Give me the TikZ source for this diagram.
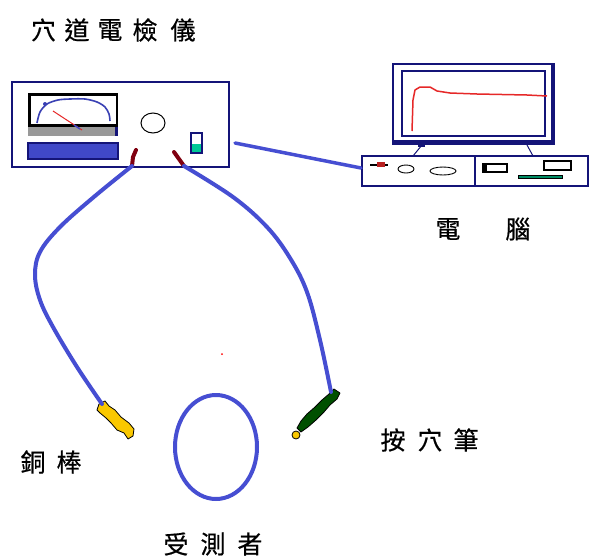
\documentclass[tikz,border=0pt]{standalone}
\usepackage{fontspec}
\newfontfamily\cjk[FakeBold=0.6]{Noto Sans CJK TC}
\definecolor{navy}{RGB}{20,20,120}
\definecolor{cable}{RGB}{70,78,210}
\definecolor{barblue}{RGB}{64,72,200}
\definecolor{plugred}{RGB}{128,0,16}
\definecolor{teal}{RGB}{0,200,150}
\definecolor{gold}{RGB}{250,200,0}
\definecolor{pengreen}{RGB}{0,80,0}
\definecolor{curvered}{RGB}{230,40,40}
\definecolor{slotgreen}{RGB}{0,140,100}
\begin{document}
\begin{tikzpicture}[x=1pt,y=-1pt,
  lab/.style={font=\cjk\fontsize{25}{25}\selectfont, inner sep=0pt, text=black},
  wire/.style={draw=cable, line width=4pt, line cap=round, line join=round},
  plug/.style={draw=plugred, line width=4pt, line cap=round},
  frame/.style={draw=navy, line width=2.5pt}]
\useasboundingbox (0,0) rectangle (590,560);

% ---- titles and labels ----
\node[lab] (t1) at (43.5,30) {穴};
\node[lab] (t2) at (77,30) {道};
\node[lab] (t3) at (110,30) {電};
\node[lab] (t4) at (145,30) {檢};
\node[lab] (t5) at (183,30) {儀};
\node[lab] (pc1) at (448,229) {電};
\node[lab] (pc2) at (518,229) {腦};
\node[lab] (r1) at (33,462) {銅};
\node[lab] (r2) at (69,462) {棒};
\node[lab] (p1) at (393,440) {按};
\node[lab] (p2) at (430,440) {穴};
\node[lab] (p3) at (466,440) {筆};
\node[lab] (s1) at (176,544) {受};
\node[lab] (s2) at (213,544) {測};
\node[lab] (s3) at (250,544) {者};

% ---- point detector ----
\node[frame, fill=white, minimum width=217pt, minimum height=85pt, inner sep=0pt] (inst) at (120.5,124.5) {};
% meter
\fill[black] (28,93) rectangle (118,127);
\fill[white] (31,96) rectangle (116,124);
\fill[black!40] (28,127) rectangle (118,136);
\fill[navy] (115,127) rectangle (118,136);
\draw[barblue!90!black, line width=1.6pt] plot[smooth] coordinates {(37,123) (40,112) (47,104) (58,100) (70,99) (85,99) (97,102) (105,107) (109,114) (110,121)};
\fill[barblue!90!black] (45,104) circle (2pt);
\draw[curvered, line width=1pt] (53,111) -- (82,130);
\draw[barblue, line width=1.4pt] (74,125) -- (80,129);
% level bar
\draw[navy, line width=1.5pt, fill=barblue] (28,143) rectangle (118,159);
% knob
\draw[black, line width=1pt] (153,123) ellipse [x radius=12pt, y radius=10pt];
% switch
\fill[teal] (191,144) rectangle (202,153);
\draw[navy, line width=1.2pt] (191,133) rectangle (202,153);
% output jacks
\coordinate (jackL) at (132,166);
\coordinate (jackR) at (184,166);
\draw[plug] (jackL) -- (133,157) -- (136,150);
\draw[plug] (174,152) -- (jackR);

% ---- computer ----
\fill[navy] (392,63) rectangle (555,145);
\fill[white] (394,65) rectangle (551,140);
\draw[navy, line width=1.5pt] (402,71) rectangle (545,136);
\draw[curvered, line width=1.5pt, line join=round] (412,131) -- (413,100) -- (415,90) -- (420,87) -- (430,87) -- (437,91) -- (450,93) -- (477,94) -- (527,95) -- (547,96);
% stand
\fill[navy] (418,142) rectangle (425,147);
\draw[navy, line width=1pt] (422,145) -- (413,156);
\draw[navy, line width=1pt] (527,145) -- (533,156);
% base unit
\node[draw=navy, line width=2pt, fill=white, minimum width=226pt, minimum height=30pt, inner sep=0pt] (pcbase) at (475,171) {};
\draw[navy, line width=1.5pt] (475,156) -- (475,186);
\draw[black, line width=2pt] (370,164.5) -- (388,164.5);
\fill[curvered!80!black] (377,162) rectangle (385,167);
\draw[black, line width=0.9pt] (406,169) ellipse [x radius=8pt, y radius=4pt];
\draw[black, line width=0.9pt] (443,171) ellipse [x radius=13pt, y radius=4pt];
\draw[black, line width=1.2pt] (483,164) rectangle (507,172);
\fill[black] (483,164) rectangle (487,172);
\draw[black, line width=1.2pt] (544,161) rectangle (571,170);
\draw[black, line width=0.8pt, fill=slotgreen] (518,175.5) rectangle (562,178.5);

% link between detector and computer
\coordinate (linkA) at (235,143);
\draw[wire, line width=3.5pt] (linkA) -- ([yshift=3pt]pcbase.west);

% ---- copper rod ----
\filldraw[fill=gold, draw=black, line width=0.8pt, line join=round]
  (99,404) -- (105,401) -- (109,406) -- (115,410) -- (121,417) -- (129,423) -- (134,429)
  -- (133,436) -- (128,439) -- (124,433) -- (117,430) -- (111,423) -- (106,418) -- (100,413) -- (97,410) -- cycle;
\coordinate (rodTop) at (102,404);

% ---- acupoint pen ----
\filldraw[fill=pengreen, draw=black, line width=0.8pt, line join=round]
  (334,389) -- (340,393) -- (337,399) -- (330,405) -- (324,412) -- (316,420) -- (308,427) -- (301,432)
  -- (297,428) -- (301,421) -- (307,414) -- (315,407) -- (322,400) -- (329,394) -- cycle;
\filldraw[fill=gold, draw=black, line width=0.8pt] (296,435) circle (4pt);
\coordinate (penTop) at (331,392);

% ---- cables ----
\draw[wire] plot[smooth, tension=0.6] coordinates {(jackL) (95,196) (60,227) (40,252) (35,275) (40,300) (53,327) (77,367) (rodTop)};
\draw[wire] plot[smooth, tension=0.6] coordinates {(jackR) (233,197) (267,227) (290,258) (307,292) (320,340) (penTop)};

% ---- subject ----
\draw[cable, line width=4pt] (216,447) ellipse [x radius=41pt, y radius=52pt];
\fill[red] (222,354) circle (1pt);
\end{tikzpicture}
\end{document}
